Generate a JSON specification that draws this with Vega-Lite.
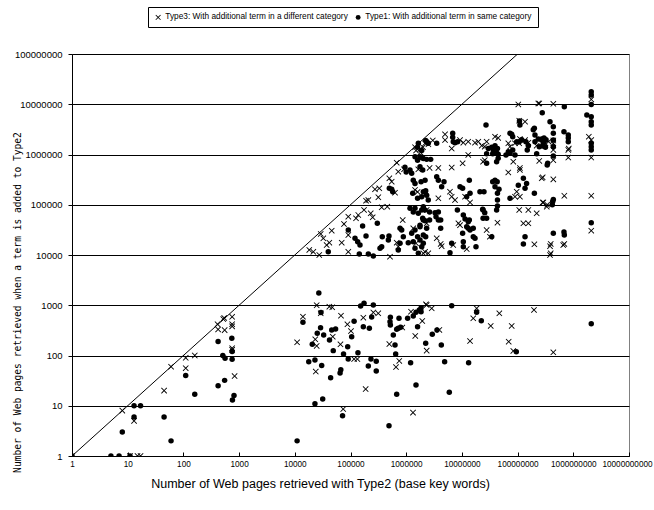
{
"$schema": "https://vega.github.io/schema/vega-lite/v6.json",
"width": 557, "height": 402,
"autosize": "none",
"padding": {"left": 72, "top": 54, "right": 25, "bottom": 54},
"background": "white",
"config": {"view": {"stroke": "#808080", "strokeWidth": 1}, "font": "Liberation Sans"},
"datasets": {
"diag": [{"x": 1, "y": 1}, {"x": 1e8, "y": 1e8}],
"pts": [
{"x":1,"y":1,"t":"T1"},{"x":5,"y":1,"t":"T1"},{"x":7,"y":1,"t":"T1"},{"x":11,"y":1,"t":"T1"},{"x":8,"y":3,"t":"T1"},{"x":13,"y":10,"t":"T1"},{"x":17,"y":10,"t":"T1"},{"x":13,"y":6,"t":"T1"},{"x":45,"y":6,"t":"T1"},{"x":60,"y":2,"t":"T1"},{"x":110,"y":40,"t":"T1"},{"x":160,"y":17,"t":"T1"},{"x":420,"y":190,"t":"T1"},{"x":420,"y":25,"t":"T1"},{"x":510,"y":100,"t":"T1"},{"x":560,"y":88,"t":"T1"},{"x":550,"y":32,"t":"T1"},{"x":740,"y":220,"t":"T1"},{"x":750,"y":120,"t":"T1"},{"x":750,"y":84,"t":"T1"},{"x":810,"y":16,"t":"T1"},{"x":760,"y":13,"t":"T1"},
{"x":11000,"y":2,"t":"T1"},{"x":14000,"y":460,"t":"T1"},{"x":27000,"y":1750,"t":"T1"},{"x":29500,"y":720,"t":"T1"},{"x":20600,"y":167,"t":"T1"},{"x":17800,"y":75,"t":"T1"},{"x":23000,"y":81,"t":"T1"},{"x":23000,"y":11,"t":"T1"},{"x":31700,"y":13.6,"t":"T1"},{"x":25300,"y":276,"t":"T1"},{"x":29000,"y":357,"t":"T1"},{"x":30400,"y":63,"t":"T1"},{"x":33000,"y":256,"t":"T1"},{"x":44000,"y":36,"t":"T1"},{"x":42000,"y":203,"t":"T1"},{"x":46000,"y":322,"t":"T1"},{"x":54000,"y":337,"t":"T1"},{"x":49000,"y":125,"t":"T1"},{"x":65000,"y":45,"t":"T1"},{"x":67000,"y":52,"t":"T1"},{"x":72000,"y":6.3,"t":"T1"},{"x":75000,"y":107,"t":"T1"},{"x":89000,"y":150,"t":"T1"},{"x":91000,"y":85,"t":"T1"},{"x":105000,"y":237,"t":"T1"},{"x":116000,"y":480,"t":"T1"},{"x":136000,"y":114,"t":"T1"},{"x":175000,"y":1100,"t":"T1"},{"x":152000,"y":970,"t":"T1"},{"x":170000,"y":375,"t":"T1"},{"x":218000,"y":350,"t":"T1"},{"x":209000,"y":62,"t":"T1"},{"x":240000,"y":584,"t":"T1"},{"x":257000,"y":1010,"t":"T1"},{"x":233000,"y":85,"t":"T1"},{"x":290000,"y":77,"t":"T1"},{"x":290000,"y":49,"t":"T1"},
{"x":491000,"y":4,"t":"T1"},{"x":675000,"y":17,"t":"T1"},{"x":512000,"y":470,"t":"T1"},{"x":520000,"y":405,"t":"T1"},{"x":587000,"y":256,"t":"T1"},{"x":520000,"y":576,"t":"T1"},{"x":630000,"y":162,"t":"T1"},{"x":647000,"y":107,"t":"T1"},{"x":675000,"y":332,"t":"T1"},{"x":721000,"y":348,"t":"T1"},{"x":743000,"y":550,"t":"T1"},{"x":796000,"y":364,"t":"T1"},{"x":1060000,"y":550,"t":"T1"},{"x":1200000,"y":72,"t":"T1"},{"x":1340000,"y":611,"t":"T1"},{"x":1500000,"y":723,"t":"T1"},{"x":1500000,"y":26,"t":"T1"},{"x":1600000,"y":375,"t":"T1"},{"x":1720000,"y":805,"t":"T1"},{"x":1850000,"y":880,"t":"T1"},{"x":2240000,"y":175,"t":"T1"},{"x":1850000,"y":744,"t":"T1"},{"x":2940000,"y":264,"t":"T1"},{"x":3570000,"y":322,"t":"T1"},{"x":4270000,"y":162,"t":"T1"},{"x":4900000,"y":75,"t":"T1"},{"x":5940000,"y":18.5,"t":"T1"},{"x":6560000,"y":980,"t":"T1"},{"x":13200000,"y":72,"t":"T1"},{"x":18400000,"y":723,"t":"T1"},{"x":22300000,"y":493,"t":"T1"},{"x":94800000,"y":119,"t":"T1"},{"x":2100000000,"y":430,"t":"T1"},
{"x":39900,"y":11600,"t":"T1"},{"x":91300,"y":31400,"t":"T1"},{"x":120500,"y":21500,"t":"T1"},{"x":134500,"y":18400,"t":"T1"},{"x":148000,"y":15800,"t":"T1"},{"x":144000,"y":10500,"t":"T1"},{"x":190000,"y":23900,"t":"T1"},{"x":257000,"y":9550,"t":"T1"},{"x":303000,"y":42700,"t":"T1"},{"x":339000,"y":13600,"t":"T1"},{"x":372000,"y":23100,"t":"T1"},{"x":363000,"y":14600,"t":"T1"},{"x":491000,"y":23900,"t":"T1"},{"x":478000,"y":19900,"t":"T1"},{"x":165000,"y":37700,"t":"T1"},{"x":209000,"y":10500,"t":"T1"},{"x":498000,"y":212000,"t":"T1"},{"x":549000,"y":203000,"t":"T1"},{"x":573000,"y":182000,"t":"T1"},{"x":775000,"y":34000,"t":"T1"},{"x":830000,"y":31400,"t":"T1"},{"x":888000,"y":23100,"t":"T1"},{"x":1090000,"y":17600,"t":"T1"},{"x":1255000,"y":27000,"t":"T1"},{"x":1440000,"y":31400,"t":"T1"},{"x":1170000,"y":85000,"t":"T1"},{"x":1340000,"y":72000,"t":"T1"},{"x":1440000,"y":85000,"t":"T1"},{"x":1650000,"y":67600,"t":"T1"},{"x":2030000,"y":49700,"t":"T1"},{"x":1770000,"y":36600,"t":"T1"},{"x":1600000,"y":23100,"t":"T1"},{"x":1770000,"y":19900,"t":"T1"},{"x":1340000,"y":18400,"t":"T1"},{"x":1440000,"y":13600,"t":"T1"},{"x":1900000,"y":14600,"t":"T1"},{"x":1650000,"y":10800,"t":"T1"},{"x":1170000,"y":492000,"t":"T1"},{"x":1255000,"y":425000,"t":"T1"},{"x":1340000,"y":308000,"t":"T1"},{"x":1440000,"y":265000,"t":"T1"},{"x":1310000,"y":169000,"t":"T1"},{"x":1600000,"y":134000,"t":"T1"},{"x":2180000,"y":182000,"t":"T1"},{"x":2330000,"y":155000,"t":"T1"},{"x":1440000,"y":904000,"t":"T1"},{"x":1600000,"y":770000,"t":"T1"},{"x":1770000,"y":904000,"t":"T1"},{"x":1900000,"y":1200000,"t":"T1"},{"x":1600000,"y":1400000,"t":"T1"},{"x":2030000,"y":836000,"t":"T1"},{"x":2330000,"y":800000,"t":"T1"},{"x":1650000,"y":1670000,"t":"T1"},{"x":2330000,"y":1800000,"t":"T1"},{"x":1770000,"y":572000,"t":"T1"},{"x":2180000,"y":308000,"t":"T1"},{"x":2030000,"y":91400,"t":"T1"},{"x":2490000,"y":124000,"t":"T1"},{"x":775000,"y":17100,"t":"T1"},{"x":721000,"y":12600,"t":"T1"},{"x":950000,"y":560000,"t":"T1"},{"x":1000000,"y":450000,"t":"T1"},
{"x":2240000,"y":1900000,"t":"T1"},{"x":2490000,"y":1670000,"t":"T1"},{"x":3530000,"y":1670000,"t":"T1"},{"x":6840000,"y":2640000,"t":"T1"},{"x":6840000,"y":2200000,"t":"T1"},{"x":7000000,"y":1800000,"t":"T1"},{"x":1900000,"y":870000,"t":"T1"},{"x":2750000,"y":800000,"t":"T1"},{"x":1980000,"y":492000,"t":"T1"},{"x":3530000,"y":362000,"t":"T1"},{"x":3780000,"y":308000,"t":"T1"},{"x":4770000,"y":288000,"t":"T1"},{"x":4330000,"y":229000,"t":"T1"},{"x":1850000,"y":288000,"t":"T1"},{"x":2030000,"y":182000,"t":"T1"},{"x":2240000,"y":189000,"t":"T1"},{"x":1900000,"y":145000,"t":"T1"},{"x":1900000,"y":78700,"t":"T1"},{"x":2180000,"y":78700,"t":"T1"},{"x":2630000,"y":72000,"t":"T1"},{"x":3300000,"y":69000,"t":"T1"},{"x":3780000,"y":72000,"t":"T1"},{"x":3430000,"y":57800,"t":"T1"},{"x":3780000,"y":49700,"t":"T1"},{"x":2180000,"y":48000,"t":"T1"},{"x":1980000,"y":53700,"t":"T1"},{"x":1770000,"y":39300,"t":"T1"},{"x":2330000,"y":34000,"t":"T1"},{"x":2630000,"y":49700,"t":"T1"},{"x":2030000,"y":25000,"t":"T1"},{"x":2240000,"y":23100,"t":"T1"},{"x":2030000,"y":17100,"t":"T1"},{"x":4160000,"y":34000,"t":"T1"},{"x":4160000,"y":49700,"t":"T1"},{"x":6110000,"y":11100,"t":"T1"},{"x":7520000,"y":1720000,"t":"T1"},{"x":8380000,"y":1800000,"t":"T1"},{"x":13600000,"y":308000,"t":"T1"},{"x":9250000,"y":229000,"t":"T1"},{"x":10300000,"y":212000,"t":"T1"},{"x":12200000,"y":145000,"t":"T1"},{"x":8300000,"y":78700,"t":"T1"},{"x":10600000,"y":62500,"t":"T1"},{"x":11400000,"y":52000,"t":"T1"},{"x":13600000,"y":49700,"t":"T1"},{"x":13000000,"y":34000,"t":"T1"},{"x":16000000,"y":34000,"t":"T1"},{"x":10300000,"y":27000,"t":"T1"},{"x":17200000,"y":21500,"t":"T1"},{"x":17900000,"y":14600,"t":"T1"},{"x":10600000,"y":18400,"t":"T1"},{"x":21100000,"y":182000,"t":"T1"},{"x":24900000,"y":182000,"t":"T1"},{"x":23600000,"y":81100,"t":"T1"},{"x":25700000,"y":69000,"t":"T1"},{"x":24000000,"y":53700,"t":"T1"},{"x":27800000,"y":53700,"t":"T1"},{"x":35700000,"y":288000,"t":"T1"},{"x":39300000,"y":308000,"t":"T1"},{"x":43000000,"y":288000,"t":"T1"},{"x":39300000,"y":229000,"t":"T1"},{"x":46400000,"y":203000,"t":"T1"},{"x":43500000,"y":124000,"t":"T1"},{"x":43500000,"y":169000,"t":"T1"},{"x":36600000,"y":1230000,"t":"T1"},{"x":34300000,"y":1400000,"t":"T1"},{"x":39300000,"y":1500000,"t":"T1"},{"x":43500000,"y":1310000,"t":"T1"},{"x":29800000,"y":1310000,"t":"T1"},{"x":35700000,"y":1040000,"t":"T1"},{"x":42000000,"y":1070000,"t":"T1"},{"x":44800000,"y":1010000,"t":"T1"},{"x":27800000,"y":1040000,"t":"T1"},{"x":27100000,"y":3870000,"t":"T1"},{"x":61900000,"y":978000,"t":"T1"},{"x":68100000,"y":1140000,"t":"T1"},{"x":73100000,"y":1060000,"t":"T1"},{"x":81700000,"y":1230000,"t":"T1"},{"x":89800000,"y":978000,"t":"T1"},{"x":81700000,"y":2260000,"t":"T1"},{"x":78300000,"y":2520000,"t":"T1"},{"x":110000000,"y":3870000,"t":"T1"},{"x":108000000,"y":4630000,"t":"T1"},{"x":96400000,"y":1800000,"t":"T1"},{"x":107000000,"y":1800000,"t":"T1"},{"x":118000000,"y":1960000,"t":"T1"},{"x":141000000,"y":1800000,"t":"T1"},{"x":156000000,"y":1500000,"t":"T1"},{"x":149000000,"y":1230000,"t":"T1"},{"x":200000000,"y":3320000,"t":"T1"},{"x":205000000,"y":1800000,"t":"T1"},{"x":235000000,"y":2040000,"t":"T1"},{"x":271000000,"y":2040000,"t":"T1"},{"x":298000000,"y":2140000,"t":"T1"},{"x":324000000,"y":1960000,"t":"T1"},{"x":220000000,"y":1040000,"t":"T1"},{"x":277000000,"y":6790000,"t":"T1"},{"x":382000000,"y":4500000,"t":"T1"},{"x":438000000,"y":3570000,"t":"T1"},{"x":438000000,"y":2640000,"t":"T1"},{"x":438000000,"y":1940000,"t":"T1"},{"x":438000000,"y":1430000,"t":"T1"},{"x":438000000,"y":933000,"t":"T1"},{"x":347000000,"y":668000,"t":"T1"},{"x":438000000,"y":127000,"t":"T1"},{"x":427000000,"y":116000,"t":"T1"},{"x":420000000,"y":100000,"t":"T1"},{"x":690000000,"y":8940000,"t":"T1"},{"x":680000000,"y":2840000,"t":"T1"},{"x":813000000,"y":2440000,"t":"T1"},{"x":813000000,"y":2140000,"t":"T1"},{"x":813000000,"y":1800000,"t":"T1"},{"x":680000000,"y":28800,"t":"T1"},{"x":690000000,"y":25000,"t":"T1"},{"x":438000000,"y":27000,"t":"T1"},{"x":136000000,"y":23100,"t":"T1"},{"x":127000000,"y":16600,"t":"T1"},{"x":200000000,"y":169000,"t":"T1"},{"x":1750000000,"y":6110000,"t":"T1"},{"x":2100000000,"y":5650000,"t":"T1"},{"x":2100000000,"y":4500000,"t":"T1"},{"x":2100000000,"y":3870000,"t":"T1"},{"x":2100000000,"y":17800000,"t":"T1"},{"x":2100000000,"y":15300000,"t":"T1"},{"x":2100000000,"y":9900000,"t":"T1"},{"x":2100000000,"y":1670000,"t":"T1"},{"x":2100000000,"y":1430000,"t":"T1"},{"x":2100000000,"y":1230000,"t":"T1"},{"x":2100000000,"y":44000,"t":"T1"},{"x":340000000,"y":620000,"t":"T1"},{"x":245000000,"y":1430000,"t":"T1"},{"x":282000000,"y":1480000,"t":"T1"},{"x":316000000,"y":1400000,"t":"T1"},{"x":14000000,"y":169000,"t":"T1"},{"x":24000000,"y":78700,"t":"T1"},{"x":34300000,"y":23100,"t":"T1"},{"x":43500000,"y":94000,"t":"T1"},{"x":42000000,"y":78700,"t":"T1"},{"x":73100000,"y":134000,"t":"T1"},{"x":103000000,"y":245000,"t":"T1"},{"x":127000000,"y":336000,"t":"T1"},{"x":145000000,"y":265000,"t":"T1"},{"x":136000000,"y":212000,"t":"T1"},{"x":27800000,"y":668000,"t":"T1"},{"x":42000000,"y":720000,"t":"T1"},{"x":44800000,"y":840000,"t":"T1"},{"x":191000000,"y":3100000,"t":"T1"},{"x":205000000,"y":2440000,"t":"T1"},{"x":271000000,"y":1940000,"t":"T1"},{"x":290000000,"y":1670000,"t":"T1"},{"x":73100000,"y":2640000,"t":"T1"},{"x":12200000,"y":36600,"t":"T1"},{"x":13000000,"y":45700,"t":"T1"},{"x":14000000,"y":31400,"t":"T1"},{"x":16000000,"y":23100,"t":"T1"},{"x":10600000,"y":14600,"t":"T1"},{"x":6560000,"y":17100,"t":"T1"},
{"x":1,"y":1,"t":"T3"},{"x":8,"y":8,"t":"T3"},{"x":13,"y":5,"t":"T3"},{"x":11,"y":1,"t":"T3"},{"x":15,"y":1,"t":"T3"},{"x":17,"y":1,"t":"T3"},{"x":45,"y":20,"t":"T3"},{"x":60,"y":60,"t":"T3"},{"x":110,"y":90,"t":"T3"},{"x":110,"y":56,"t":"T3"},{"x":160,"y":100,"t":"T3"},{"x":410,"y":420,"t":"T3"},{"x":420,"y":330,"t":"T3"},{"x":520,"y":530,"t":"T3"},{"x":550,"y":320,"t":"T3"},{"x":540,"y":560,"t":"T3"},{"x":750,"y":590,"t":"T3"},{"x":750,"y":420,"t":"T3"},{"x":750,"y":380,"t":"T3"},{"x":750,"y":130,"t":"T3"},{"x":750,"y":140,"t":"T3"},{"x":830,"y":39,"t":"T3"},
{"x":11000,"y":183,"t":"T3"},{"x":14000,"y":592,"t":"T3"},{"x":24700,"y":1000,"t":"T3"},{"x":23800,"y":48,"t":"T3"},{"x":24700,"y":155,"t":"T3"},{"x":23300,"y":210,"t":"T3"},{"x":29200,"y":690,"t":"T3"},{"x":41700,"y":935,"t":"T3"},{"x":47000,"y":908,"t":"T3"},{"x":48000,"y":237,"t":"T3"},{"x":67500,"y":620,"t":"T3"},{"x":66000,"y":167,"t":"T3"},{"x":74000,"y":8.6,"t":"T3"},{"x":88000,"y":418,"t":"T3"},{"x":102000,"y":307,"t":"T3"},{"x":116000,"y":85,"t":"T3"},{"x":133000,"y":85,"t":"T3"},{"x":170000,"y":565,"t":"T3"},{"x":187000,"y":21.5,"t":"T3"},{"x":257000,"y":720,"t":"T3"},{"x":315000,"y":690,"t":"T3"},{"x":498000,"y":169,"t":"T3"},{"x":656000,"y":59,"t":"T3"},{"x":751000,"y":78,"t":"T3"},{"x":851000,"y":360,"t":"T3"},{"x":1325000,"y":7.3,"t":"T3"},{"x":1220000,"y":744,"t":"T3"},{"x":1455000,"y":245,"t":"T3"},{"x":1945000,"y":486,"t":"T3"},{"x":2265000,"y":1045,"t":"T3"},{"x":2330000,"y":125,"t":"T3"},{"x":2330000,"y":1010,"t":"T3"},{"x":2870000,"y":870,"t":"T3"},{"x":3940000,"y":322,"t":"T3"},{"x":14000000,"y":194,"t":"T3"},{"x":16000000,"y":550,"t":"T3"},{"x":18400000,"y":870,"t":"T3"},{"x":32900000,"y":387,"t":"T3"},{"x":47000000,"y":692,"t":"T3"},{"x":69200000,"y":188,"t":"T3"},{"x":78300000,"y":387,"t":"T3"},{"x":83700000,"y":123,"t":"T3"},{"x":197000000,"y":805,"t":"T3"},{"x":438000000,"y":116,"t":"T3"},
{"x":18200,"y":12600,"t":"T3"},{"x":21500,"y":11600,"t":"T3"},{"x":27500,"y":10000,"t":"T3"},{"x":29200,"y":26200,"t":"T3"},{"x":32500,"y":21500,"t":"T3"},{"x":37300,"y":15800,"t":"T3"},{"x":41700,"y":17600,"t":"T3"},{"x":46000,"y":30500,"t":"T3"},{"x":69500,"y":17600,"t":"T3"},{"x":76400,"y":41400,"t":"T3"},{"x":91300,"y":11600,"t":"T3"},{"x":91300,"y":25000,"t":"T3"},{"x":125600,"y":53700,"t":"T3"},{"x":138000,"y":62500,"t":"T3"},{"x":175000,"y":78700,"t":"T3"},{"x":190000,"y":120500,"t":"T3"},{"x":209000,"y":124000,"t":"T3"},{"x":230500,"y":67600,"t":"T3"},{"x":250000,"y":56300,"t":"T3"},{"x":275000,"y":203000,"t":"T3"},{"x":329000,"y":212000,"t":"T3"},{"x":316000,"y":141000,"t":"T3"},{"x":363000,"y":89000,"t":"T3"},{"x":458000,"y":91400,"t":"T3"},{"x":498000,"y":336000,"t":"T3"},{"x":549000,"y":288000,"t":"T3"},{"x":630000,"y":174000,"t":"T3"},{"x":675000,"y":687000,"t":"T3"},{"x":721000,"y":455000,"t":"T3"},{"x":914000,"y":507000,"t":"T3"},{"x":721000,"y":14600,"t":"T3"},{"x":675000,"y":17600,"t":"T3"},{"x":865000,"y":49700,"t":"T3"},{"x":512000,"y":9250,"t":"T3"},{"x":91300,"y":58000,"t":"T3"},{"x":1440000,"y":197000,"t":"T3"},{"x":1600000,"y":180000,"t":"T3"},{"x":2030000,"y":10800,"t":"T3"},{"x":2330000,"y":78700,"t":"T3"},{"x":2330000,"y":42700,"t":"T3"},{"x":1500000,"y":17100,"t":"T3"},{"x":1340000,"y":34000,"t":"T3"},{"x":1650000,"y":507000,"t":"T3"},{"x":2180000,"y":1670000,"t":"T3"},{"x":1770000,"y":1270000,"t":"T3"},{"x":1440000,"y":1400000,"t":"T3"},{"x":1500000,"y":1200000,"t":"T3"},{"x":2000000,"y":1400000,"t":"T3"},{"x":2500000,"y":1600000,"t":"T3"},{"x":3000000,"y":1900000,"t":"T3"},{"x":1800000,"y":1100000,"t":"T3"},
{"x":103000000,"y":9900000,"t":"T3"},{"x":235000000,"y":10400000,"t":"T3"},{"x":438000000,"y":10200000,"t":"T3"},{"x":107000000,"y":4700000,"t":"T3"},{"x":136000000,"y":4500000,"t":"T3"},{"x":4980000,"y":2520000,"t":"T3"},{"x":4980000,"y":1940000,"t":"T3"},{"x":9250000,"y":1940000,"t":"T3"},{"x":10600000,"y":1720000,"t":"T3"},{"x":13000000,"y":1800000,"t":"T3"},{"x":17200000,"y":1720000,"t":"T3"},{"x":19700000,"y":1800000,"t":"T3"},{"x":22700000,"y":1500000,"t":"T3"},{"x":25700000,"y":1430000,"t":"T3"},{"x":27800000,"y":1800000,"t":"T3"},{"x":39300000,"y":2260000,"t":"T3"},{"x":44800000,"y":2140000,"t":"T3"},{"x":68100000,"y":1670000,"t":"T3"},{"x":73100000,"y":1430000,"t":"T3"},{"x":89800000,"y":1670000,"t":"T3"},{"x":107000000,"y":1670000,"t":"T3"},{"x":110000000,"y":2040000,"t":"T3"},{"x":136000000,"y":1940000,"t":"T3"},{"x":156000000,"y":1720000,"t":"T3"},{"x":220000000,"y":1500000,"t":"T3"},{"x":316000000,"y":1670000,"t":"T3"},{"x":360000000,"y":1800000,"t":"T3"},{"x":813000000,"y":1230000,"t":"T3"},{"x":813000000,"y":870000,"t":"T3"},{"x":2100000000,"y":870000,"t":"T3"},{"x":6560000,"y":1310000,"t":"T3"},{"x":6560000,"y":550000,"t":"T3"},{"x":13000000,"y":978000,"t":"T3"},{"x":10300000,"y":668000,"t":"T3"},{"x":24000000,"y":720000,"t":"T3"},{"x":25700000,"y":770000,"t":"T3"},{"x":83700000,"y":720000,"t":"T3"},{"x":110000000,"y":540000,"t":"T3"},{"x":68100000,"y":440000,"t":"T3"},{"x":110000000,"y":492000,"t":"T3"},{"x":2630000,"y":540000,"t":"T3"},{"x":3780000,"y":540000,"t":"T3"},{"x":271000000,"y":336000,"t":"T3"},{"x":438000000,"y":320000,"t":"T3"},{"x":245000000,"y":745000,"t":"T3"},{"x":6560000,"y":145000,"t":"T3"},{"x":7520000,"y":124000,"t":"T3"},{"x":11400000,"y":145000,"t":"T3"},{"x":3780000,"y":134000,"t":"T3"},{"x":14000000,"y":111000,"t":"T3"},{"x":96400000,"y":182000,"t":"T3"},{"x":110000000,"y":145000,"t":"T3"},{"x":89800000,"y":145000,"t":"T3"},{"x":290000000,"y":111000,"t":"T3"},{"x":334000000,"y":91400,"t":"T3"},{"x":220000000,"y":67600,"t":"T3"},{"x":107000000,"y":78700,"t":"T3"},{"x":156000000,"y":78700,"t":"T3"},{"x":127000000,"y":42700,"t":"T3"},{"x":156000000,"y":42700,"t":"T3"},{"x":8660000,"y":42700,"t":"T3"},{"x":9250000,"y":39300,"t":"T3"},{"x":43500000,"y":44000,"t":"T3"},{"x":27800000,"y":31400,"t":"T3"},{"x":31800000,"y":23100,"t":"T3"},{"x":200000000,"y":16300,"t":"T3"},{"x":382000000,"y":15000,"t":"T3"},{"x":660000000,"y":15800,"t":"T3"},{"x":382000000,"y":10000,"t":"T3"},{"x":7000000,"y":15800,"t":"T3"},{"x":12200000,"y":13100,"t":"T3"},{"x":2180000,"y":11600,"t":"T3"},{"x":2490000,"y":10800,"t":"T3"},{"x":4160000,"y":16600,"t":"T3"},{"x":4330000,"y":15000,"t":"T3"},{"x":3530000,"y":21500,"t":"T3"},{"x":6110000,"y":182000,"t":"T3"},{"x":690000000,"y":151000,"t":"T3"},{"x":690000000,"y":16600,"t":"T3"},{"x":2100000000,"y":151000,"t":"T3"},{"x":2100000000,"y":30500,"t":"T3"},{"x":2100000000,"y":12500000,"t":"T3"},{"x":2100000000,"y":1940000,"t":"T3"},{"x":1900000000,"y":2260000,"t":"T3"},{"x":438000000,"y":770000,"t":"T3"},{"x":282000000,"y":352000,"t":"T3"},{"x":282000000,"y":111000,"t":"T3"},{"x":340000000,"y":100000,"t":"T3"},{"x":393000000,"y":16600,"t":"T3"},{"x":393000000,"y":10800,"t":"T3"},{"x":245000000,"y":10400000,"t":"T3"},{"x":438000000,"y":1900000,"t":"T3"},{"x":438000000,"y":1670000,"t":"T3"},{"x":438000000,"y":1230000,"t":"T3"},{"x":830000000,"y":1310000,"t":"T3"}
]
},
"encoding": {
"x": {"field": "x", "type": "quantitative",
 "scale": {"type": "log", "domain": [1, 10000000000], "nice": false},
 "axis": {"values": [1,10,100,1000,10000,100000,1000000,10000000,100000000,1000000000,10000000000], "format": "d", "grid": false,
  "tickSize": -4, "labelPadding": 8, "labelFontSize": 8.2, "labelColor": "black", "domainColor": "black", "tickColor": "black", "labelFlush": false, "labelOverlap": false,
  "labelOffset": {"condition": {"test": "datum.value > 5000000000", "value": -2}, "value": 0},
  "title": "Number of Web pages retrieved with Type2 (base key words)", "titleFontSize": 12.5, "titleFontWeight": "normal", "titleColor": "black", "titlePadding": 10, "titleX": 248, "titleAnchor": "middle"}},
"y": {"field": "y", "type": "quantitative",
 "scale": {"type": "log", "domain": [1, 100000000], "nice": false},
 "axis": {"values": [1,10,100,1000,10000,100000,1000000,10000000,100000000], "format": "d", "grid": true, "gridColor": "black", "gridOpacity": 1, "gridWidth": 1,
  "tickSize": 4, "labelPadding": 6, "labelFontSize": 9.5, "labelColor": "black", "domainColor": "black", "tickColor": "black", "labelFlush": false, "labelOverlap": false,
  "title": "Number of Web pages retrieved when a term is added to Type2", "titleFont": "DejaVu Sans Mono", "titleFontSize": 9.6, "titleFontWeight": "normal", "titleColor": "black",
  "titleX": -55, "titleY": 248, "titleAngle": -90, "titleAlign": "center", "titleBaseline": "middle"}}
},
"layer": [
{"data": {"name": "diag"}, "mark": {"type": "line", "color": "black", "strokeWidth": 1, "clip": true}},
{"data": {"name": "pts"}, "mark": {"type": "point", "filled": true, "fill": "black", "strokeWidth": 0, "opacity": 1, "size": 30, "clip": true},
 "encoding": {
  "shape": {"field": "t", "type": "nominal",
   "scale": {"domain": ["T3", "T1"], "range": ["M-1.1,-0.87L-0.87,-1.1L0,-0.23L0.87,-1.1L1.1,-0.87L0.23,0L1.1,0.87L0.87,1.1L0,0.23L-0.87,1.1L-1.1,0.87L-0.23,0Z", "circle"]},
   "legend": {"title": null, "orient": "none", "legendX": 76, "legendY": -47, "direction": "horizontal",
    "strokeColor": "black", "padding": 6, "fillColor": "white", "labelFontSize": 8.3, "labelColor": "black", "labelLimit": 400, "columnPadding": 6, "symbolSize": 24,
    "symbolFillColor": "black", "symbolStrokeWidth": 0, "symbolOffset": 0, "labelOffset": 3,
    "labelExpr": "datum.label == 'T3' ? 'Type3: With additional term in a different category' : 'Type1: With additional term in same category'"}}
 }}
]
}
